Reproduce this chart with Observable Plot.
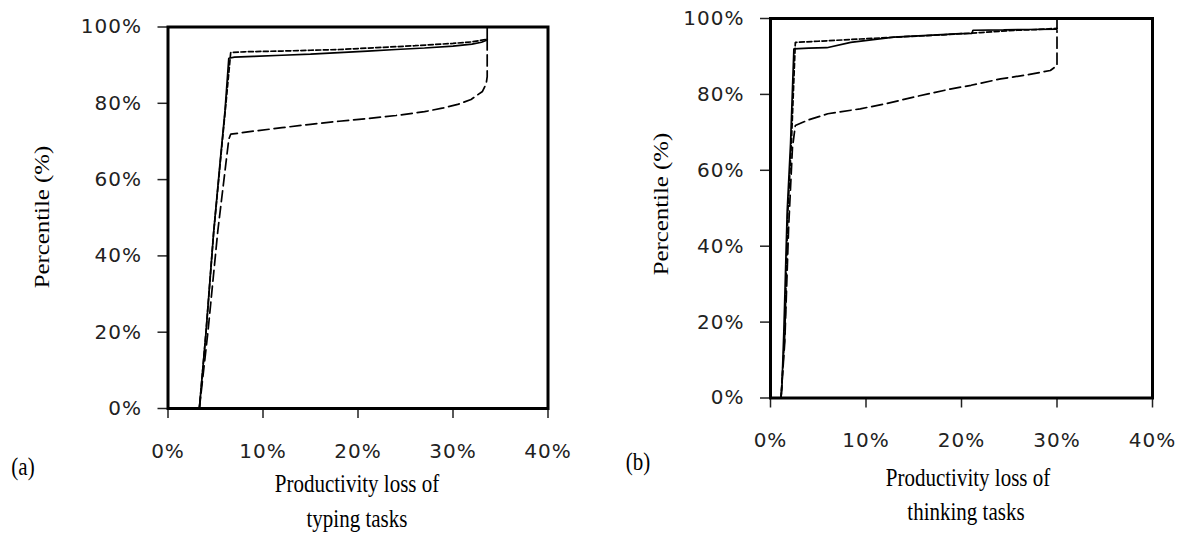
<!DOCTYPE html>
<html>
<head>
<meta charset="utf-8">
<script src="https://cdn.jsdelivr.net/npm/d3@7"></script>
<script src="https://cdn.jsdelivr.net/npm/@observablehq/plot@0.6"></script>
<style>
  html, body { margin: 0; padding: 0; background: #fff; }
  #wrap { position: relative; width: 1181px; height: 541px; overflow: hidden; }
  .panel { position: absolute; top: 0; }
  .lbl { position: absolute; font-family: "Liberation Serif", "Times New Roman", serif; font-size: 21px; color: #000; white-space: nowrap; line-height: 1; transform: translate(-50%, -50%) scale(1, 1.22); }
  .rot { transform: translate(-50%, -50%) rotate(-90deg) scale(1.18, 1); }
</style>
</head>
<body>
<div id="wrap">
  <div class="panel" id="pa" style="left:0px"></div>
  <div class="panel" id="pb" style="left:600px"></div>
  <div class="lbl rot" style="left:42px; top:217px">Percentile (%)</div>
  <div class="lbl" style="left:23px; top:467px">(a)</div>
  <div class="lbl" style="left:357px; top:484px">Productivity loss of</div>
  <div class="lbl" style="left:357px; top:519px">typing tasks</div>
  <div class="lbl rot" style="left:661px; top:204px">Percentile (%)</div>
  <div class="lbl" style="left:638px; top:462px">(b)</div>
  <div class="lbl" style="left:968px; top:478px">Productivity loss of</div>
  <div class="lbl" style="left:966px; top:512px">thinking tasks</div>
</div>
<script>
// Tick values
const xTicks = [0, 10, 20, 30, 40];
const yTicks = [0, 20, 40, 60, 80, 100];

// (a) typing tasks — productivity loss (%) vs percentile (%)
const typingSolidX = [3.3, 4.0, 4.8, 5.5, 6.0, 6.4, 7.0, 9.0, 12.0, 15.0, 18.0, 21.0, 24.0, 27.0, 30.0, 32.0, 33.0, 33.6, 33.6];
const typingSolidY = [0, 20, 46, 65, 78, 91.8, 92.1, 92.3, 92.6, 92.9, 93.3, 93.7, 94.1, 94.5, 95.0, 95.5, 96.0, 96.6, 100];
const typingShortX = [3.3, 4.0, 4.8, 5.6, 6.1, 6.6, 8.0, 12.0, 15.0, 18.0, 22.0, 26.0, 30.0, 32.0, 33.6];
const typingShortY = [0, 20, 46, 67, 80, 93.3, 93.5, 93.7, 93.9, 94.1, 94.6, 95.1, 95.7, 96.1, 96.8];
const typingLongX = [3.3, 4.2, 5.25, 6.4, 6.6, 9.0, 12.0, 15.0, 18.0, 21.0, 24.0, 27.0, 29.0, 30.5, 31.9, 33.1, 33.5, 33.6, 33.6];
const typingLongY = [0, 20, 46.7, 70.6, 71.9, 72.7, 73.6, 74.5, 75.3, 76.0, 76.8, 77.8, 78.8, 79.7, 81.0, 83.1, 85.2, 87.0, 96.8];

// (b) thinking tasks
const thinkingSolidX = [1.1, 1.2, 1.4, 1.75, 2.1, 2.45, 4.0, 5.9, 8.4, 12.9, 16.0, 19.9, 21.1, 21.2, 24.4, 27.0, 30.0, 30.0];
const thinkingSolidY = [0, 3, 17.7, 49.3, 67, 92.0, 92.2, 92.3, 93.7, 95.1, 95.5, 96.0, 96.1, 96.9, 97.0, 97.1, 97.2, 100];
const thinkingShortX = [1.1, 1.5, 1.8, 2.2, 2.6, 5.0, 9.4, 14.0, 18.1, 22.0, 25.8, 28.0, 30.0];
const thinkingShortY = [0, 17, 48, 68, 93.7, 94.0, 94.6, 95.2, 95.7, 96.3, 96.9, 97.1, 97.4];
const thinkingLongX = [1.1, 1.5, 1.9, 2.3, 2.6, 4.0, 6.0, 9.4, 12.0, 15.0, 18.8, 21.0, 24.1, 27.0, 29.3, 30.0, 30.0];
const thinkingLongY = [0, 15, 45, 66, 71.8, 73.3, 74.9, 76.2, 77.5, 79.3, 81.4, 82.4, 84.1, 85.2, 86.3, 87.6, 96.8];

const zip = (xs, ys) => xs.map((x, i) => ({x, y: ys[i]}));

function panel(series, m) {
  const lines = series.map(s => Plot.line(zip(s.x, s.y), {
    x: "x", y: "y", stroke: "#000", strokeWidth: s.w, strokeDasharray: s.dash, strokeLinejoin: "miter"
  }));
  return Plot.plot({
    width: m.width, height: m.height,
    marginLeft: m.left, marginRight: m.right, marginTop: m.top, marginBottom: m.bottom,
    x: {domain: [0, 40]},
    y: {domain: [0, 100]},
    style: {fontFamily: "DejaVu Sans", fontSize: "20px", letterSpacing: "1px", color: "#222", background: "transparent", overflow: "visible"},
    marks: [
      Plot.axisX({ticks: xTicks, tickSize: 10, tickPadding: 25, tickFormat: d => d + "%", label: null, strokeWidth: 1.5, fontSize: 20, fill: "#222"}),
      Plot.axisY({ticks: yTicks, tickSize: 10, tickPadding: 16, tickFormat: d => d + "%", label: null, strokeWidth: 1.5, fontSize: 20, fill: "#222"}),
      ...lines,
      Plot.frame({stroke: "#000", strokeWidth: 3})
    ]
  });
}

const styles = {solid: {w: 1.7, dash: null}, short: {w: 1.7, dash: "5,2.5"}, long: {w: 1.7, dash: "11,5"}};

document.getElementById("pa").appendChild(panel([
  {x: typingLongX, y: typingLongY, ...styles.long},
  {x: typingShortX, y: typingShortY, ...styles.short},
  {x: typingSolidX, y: typingSolidY, ...styles.solid}
], {width: 600, height: 470, left: 167.5, right: 52.5, top: 26.5, bottom: 62}));

document.getElementById("pb").appendChild(panel([
  {x: thinkingLongX, y: thinkingLongY, ...styles.long},
  {x: thinkingShortX, y: thinkingShortY, ...styles.short},
  {x: thinkingSolidX, y: thinkingSolidY, ...styles.solid}
], {width: 581, height: 470, left: 170, right: 29, top: 18, bottom: 72.5}));
</script>
</body>
</html>
